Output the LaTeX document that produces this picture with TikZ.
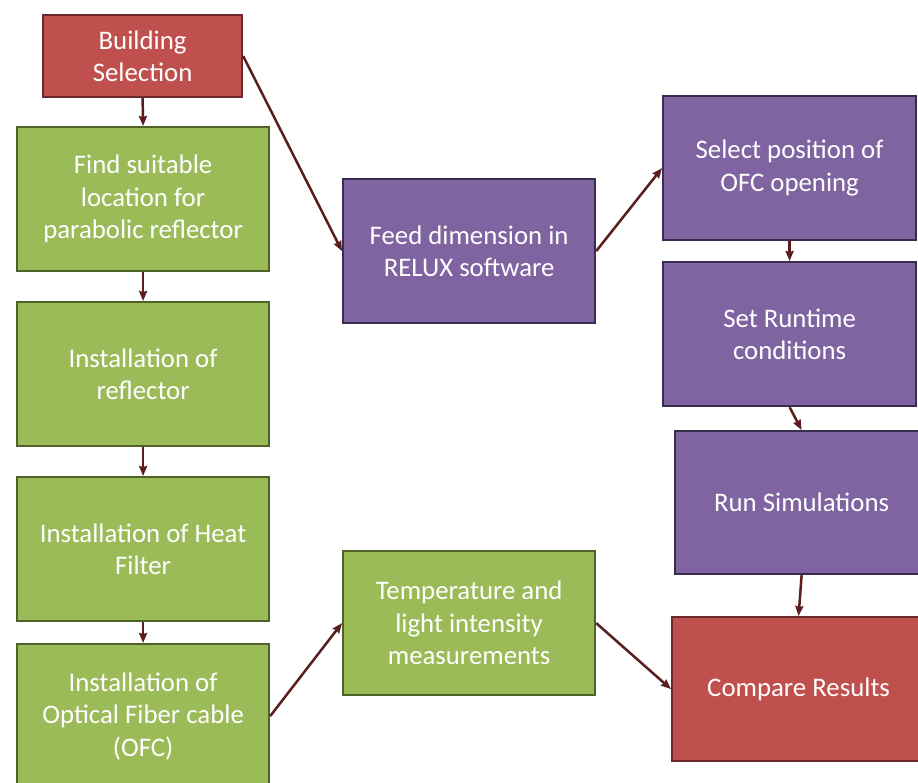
\documentclass[tikz,border=0pt]{standalone}
\usepackage{fontspec}
\setmainfont{Carlito}
\usetikzlibrary{arrows.meta}
\definecolor{redfill}{HTML}{C0504D}
\definecolor{redline}{HTML}{6B2A29}
\definecolor{greenfill}{HTML}{9BBB59}
\definecolor{greenline}{HTML}{4F6228}
\definecolor{purplefill}{HTML}{8064A2}
\definecolor{purpleline}{HTML}{3A2C4F}
\definecolor{arrowcol}{HTML}{5A1E1E}
\tikzset{
  box/.style={draw, line width=2.2pt, anchor=north west, align=center, text=white,
    font=\fontsize{26.8}{32.5}\selectfont, inner sep=0pt,
    minimum width=252pt, minimum height=144pt},
  redbox/.style={box, fill=redfill, draw=redline},
  greenbox/.style={box, fill=greenfill, draw=greenline},
  purplebox/.style={box, fill=purplefill, draw=purpleline},
  conn/.style={draw=arrowcol, line width=2.5pt, -{Stealth[length=10pt,width=8pt,inset=1pt]}}
}
\begin{document}
\begin{tikzpicture}[x=1pt,y=-1pt]
\clip (0,0) rectangle (918,782);
\fill[white] (0,0) rectangle (918,782);
\node[redbox, minimum width=199pt, minimum height=82pt] (bs) at (42,14) {Building\\Selection};
\node[greenbox] (find) at (16,126) {Find suitable\\location for\\parabolic reflector};
\node[greenbox] (refl) at (16,301) {Installation of\\reflector};
\node[greenbox] (heat) at (16,476) {Installation of Heat\\Filter};
\node[greenbox] (ofc) at (16,643) {Installation of\\Optical Fiber cable\\(OFC)};
\node[purplebox] (feed) at (342,178) {Feed dimension in\\RELUX software};
\node[greenbox] (temp) at (342,550) {Temperature and\\light intensity\\measurements};
\node[purplebox, minimum width=253pt] (sel) at (662,95) {Select position of\\OFC opening};
\node[purplebox, minimum width=253pt] (run) at (662,261) {Set Runtime\\conditions};
\node[purplebox, minimum width=253pt, minimum height=143pt] (sim) at (674,430) {Run Simulations};
\node[redbox, minimum width=253pt] (cmp) at (671,616) {Compare Results};
\draw[conn] (bs.south) -- (find.north);
\draw[conn] (find.south) -- (refl.north);
\draw[conn] (refl.south) -- (heat.north);
\draw[conn] (heat.south) -- (ofc.north);
\draw[conn] (bs.east) -- (feed.west);
\draw[conn] (feed.east) -- (sel.west);
\draw[conn] (sel.south) -- (run.north);
\draw[conn] (run.south) -- (sim.north);
\draw[conn] (sim.south) -- (cmp.north);
\draw[conn] (ofc.east) -- (temp.west);
\draw[conn] (temp.east) -- (cmp.west);
\end{tikzpicture}
\end{document}
